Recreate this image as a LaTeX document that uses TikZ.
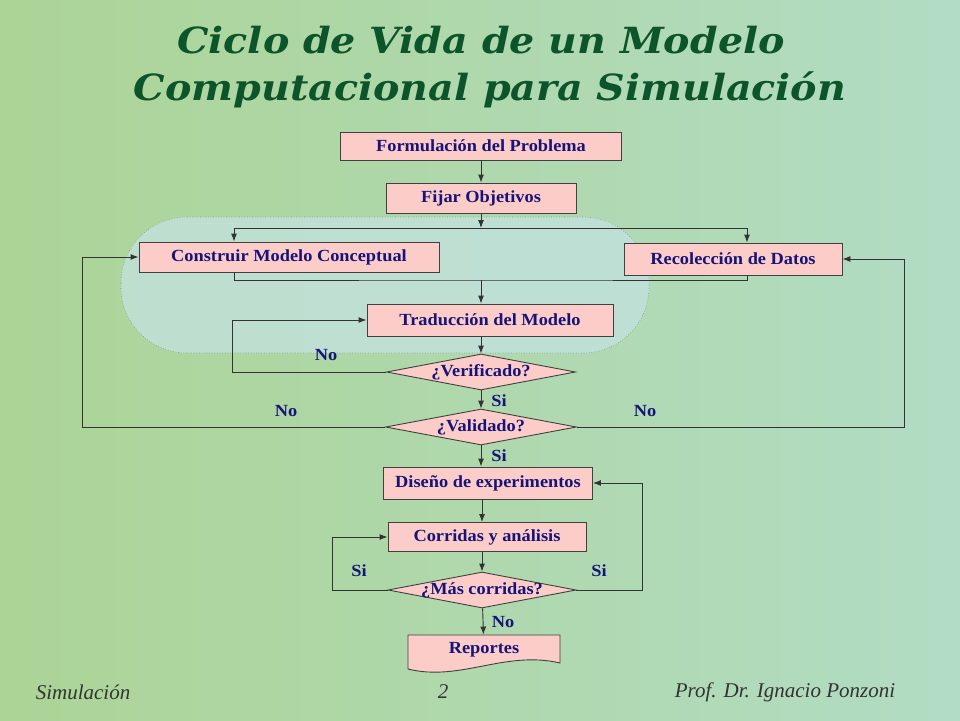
\documentclass[tikz,border=0pt]{standalone}
\usepackage{fontspec}
\setmainfont{Liberation Serif}
\newfontfamily\cajafont[FakeStretch=1.08]{Liberation Serif}
\newfontfamily\titulofont[FakeStretch=1.1]{DejaVu Serif}
\usepackage{xcolor}
\usepackage{tikz}
\usetikzlibrary{arrows,arrows.meta,shapes,shapes.geometric}
\definecolor{rosa}{RGB}{252,204,200}
\definecolor{azul}{RGB}{22,20,120}
\definecolor{verdet}{RGB}{12,84,42}
\definecolor{celeste}{RGB}{196,226,224}
\definecolor{fondoa}{RGB}{172,212,150}
\definecolor{fondob}{RGB}{196,220,168}
\definecolor{fondoc}{RGB}{178,220,196}

\begin{document}
\begin{tikzpicture}[x=1pt,y=-1pt,>={Latex[length=8pt,width=6pt]},line width=0.9pt,draw=black!80,
  caja/.style={draw=black!75,fill=rosa,text=azul,inner sep=0pt,
    font=\cajafont\bfseries\fontsize{17}{19}\selectfont},
  rombo/.style={caja,diamond,aspect=5.2,inner xsep=-30pt},
  etiq/.style={text=azul,font=\cajafont\bfseries\fontsize{17}{19}\selectfont},
  pie/.style={text=black!80,font=\itshape\fontsize{21}{23}\selectfont}]
\useasboundingbox (0,0) rectangle (960,720);
\shade[left color=fondoa,middle color=fondob,right color=fondoc] (0,0) rectangle (960,720);
\draw[dotted,draw=black!45,line width=0.6pt,fill=celeste,fill opacity=0.75,rounded corners=66pt] (121,217) rectangle (649,353);

\node[text=verdet,font=\titulofont\bfseries\itshape\fontsize{36}{40}\selectfont] (t1) at (481,40) {Ciclo de Vida de un Modelo};
\node[text=verdet,font=\titulofont\bfseries\itshape\fontsize{36}{40}\selectfont] (t2) at (490,90) {Computacional para Simulación};

\node[caja,minimum width=281pt,minimum height=28pt] (v1) at (481,146) {Formulación del Problema};
\node[caja,minimum width=190pt,minimum height=30pt] (v2) at (481,198) {Fijar Objetivos};
\node[caja,minimum width=300pt,minimum height=30pt] (v3) at (289,257) {Construir Modelo Conceptual};
\node[caja,minimum width=218pt,minimum height=32pt] (v4) at (733,259) {Recolección de Datos};
\node[caja,minimum width=246pt,minimum height=32pt] (v5) at (490,320) {Traducción del Modelo};
\node[rombo,minimum width=189pt,minimum height=36pt] (v6) at (481,372) {¿Verificado?};
\node[rombo,minimum width=191pt,minimum height=36pt] (v7) at (481,427) {¿Validado?};
\node[caja,minimum width=209pt,minimum height=32pt] (v8) at (488,483) {Diseño de experimentos};
\node[caja,minimum width=198pt,minimum height=29pt] (v9) at (487,537) {Corridas y análisis};
\node[rombo,minimum width=188pt,minimum height=36pt] (v10) at (482,590) {¿Más corridas?};
\draw[draw=black!75,fill=rosa] (408,635) -- (560,635) -- (560,663) .. controls (505,650) and (460,682) .. (408,669) -- cycle;
\node[caja,draw=none,fill=none,minimum width=152pt,minimum height=30pt] (v11) at (484,650) {Reportes};

\coordinate (j1) at (481,228);
\coordinate (j2) at (481,280);

\draw [->] (v1) edge (v2);
\draw [->] (v2) -- (j1);
\draw [->] (j1) -| ([xshift=-55pt]v3.north);
\draw [->] (j1) -| ([xshift=14pt]v4.north);
\draw ([xshift=-55pt]v3.south) |- (j2) -| ([xshift=14pt]v4.south);
\draw [->] (j2) -- (j2 |- v5.north);
\draw [->] (v5.south -| v6.north) -- (v6.north);
\draw [->] (v6) edge (v7);
\draw [->] (v7.south) -- (v7.south |- v8.north);
\draw [->] (v8.south -| v10) -- (v9.north -| v10);
\draw [->] (v9.south -| v10) -- (v10.north);
\draw [->] (v10) edge (v11);
\draw [->] (v6.west) -- ++(-154,0) |- (v5.west);
\draw [->] (v7.west) -- ++(-303,0) |- (v3.west);
\draw [->] (v7.east) -- ++(327,0) |- (v4.east);
\draw [->] (v10.west) -- ++(-55,0) |- (v9.west);
\draw [->] (v10.east) -- ++(66,0) |- (v8.east);

\node[etiq] (l1) at (326,355) {No};
\node[etiq] (l2) at (499,401) {Si};
\node[etiq] (l3) at (286,411) {No};
\node[etiq] (l4) at (645,411) {No};
\node[etiq] (l5) at (499,456) {Si};
\node[etiq] (l6) at (359,571) {Si};
\node[etiq] (l7) at (599,571) {Si};
\node[etiq] (l8) at (503,622) {No};

\node[pie] (f1) at (83,692) {Simulación};
\node[pie] (f2) at (443,692) {2};
\node[pie] (f3) at (785,692) {Prof. Dr. Ignacio Ponzoni};
\end{tikzpicture}
\end{document}
